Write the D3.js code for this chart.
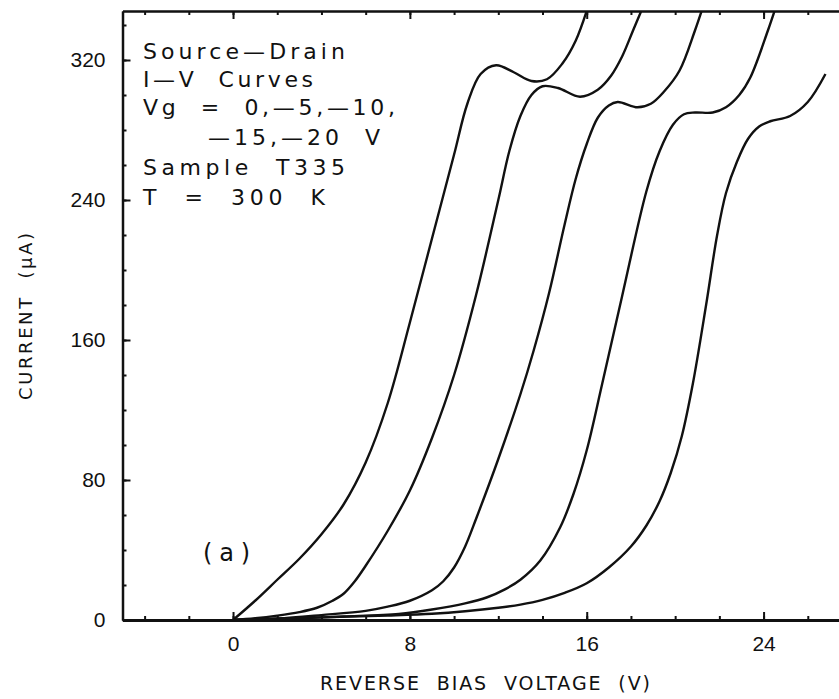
<!DOCTYPE html>
<html>
<head>
<meta charset="utf-8">
<script src="https://cdn.jsdelivr.net/npm/d3@7"></script>
<style>
	body { margin: 0; background: #fff; }
	svg { display: block; font-family: 'DejaVu Sans', 'Liberation Sans', sans-serif; }
	.axis path, .axis line { stroke: #111; }
	.axis text { font-size: 21px; fill: #111; }
</style>
</head>
<body>
<svg id="chart"></svg>
<script>
// Gate voltages of the five curves
const gateVoltages = [0, -5, -10, -15, -20];

// Reverse bias voltage (V) and current (uA)
const curveVg0 = [
	[0, 0], [1, 11], [2, 23], [3, 35], [4, 49], [5, 66], [6, 90], [7, 124], [8, 170],
	[9, 218], [10, 266], [10.6, 295], [11.2, 312], [11.9, 317], [12.7, 313],
	[13.5, 308], [14.2, 309], [14.9, 318], [15.5, 331], [16.1, 352]
];
const curveVg5 = [
	[0, 0], [1, 1], [2, 2.5], [3, 4.5], [3.8, 7], [4.5, 11], [5, 15], [5.5, 22],
	[6, 31], [7, 51], [8, 74], [9, 104], [10, 140], [11, 186], [12, 240], [12.5, 268],
	[13, 288], [13.5, 300], [14, 305], [14.7, 304], [15.7, 299], [16.5, 303],
	[17.1, 311], [17.6, 322], [18.1, 337], [18.6, 352]
];
const curveVg10 = [
	[0, 0], [2, 0.8], [4, 2.8], [6, 5.2], [7, 7.6], [8, 11], [9, 17], [9.5, 22],
	[10, 30], [10.5, 42], [11, 58], [12, 92], [13, 129], [13.6, 154], [14.3, 187],
	[15, 226], [15.5, 252], [16, 272], [16.5, 287], [17, 294], [17.4, 296], [18.3, 293],
	[18.9, 295], [19.5, 302], [20.2, 314], [20.9, 337], [21.3, 352]
];
const curveVg15 = [
	[0, 0], [3, 1], [5, 2], [7.5, 3.5], [9, 6], [10.5, 9.5], [11.5, 13], [12.3, 17.5],
	[13, 23], [13.9, 34], [14.8, 53], [15.4, 72], [16, 97], [16.7, 135], [17.6, 185],
	[18.7, 245], [19.3, 268], [19.9, 283], [20.4, 289], [20.9, 290], [21.7, 290],
	[22.3, 293], [22.9, 300], [23.4, 310], [24.2, 337], [24.6, 352]
];
const curveVg20 = [
	[0, 0], [4, 1.5], [7, 2.6], [9, 3.6], [10.5, 5], [12, 7], [13, 8.8], [14, 11.5],
	[15, 15.5], [16, 21], [17, 30], [18, 42], [18.7, 54], [19.3, 68], [19.8, 84],
	[20.3, 105], [20.8, 135], [21.4, 180], [21.9, 220], [22.3, 244], [22.8, 262],
	[23.3, 275], [23.8, 282], [24.3, 285], [25.2, 288], [26, 296], [26.8, 312]
];
const curves = [curveVg0, curveVg5, curveVg10, curveVg15, curveVg20];

// Tick values
const xMinorTicks = d3.range(-4, 28, 2);
const xMajorTicks = [0, 8, 16, 24];
const yMinorTicks = d3.range(20, 348, 20);
const yMajorTicks = [0, 80, 160, 240, 320];

// Texts
const noteLines = [
	'Source\u2014Drain',
	'I\u2014V  Curves',
	'Vg  =  0,\u20145,\u201410,',
	'\u201415,\u201420  V',
	'Sample  T335',
	'T  =  300  K'
];
const panelLabel = '(a)';
const xTitle = 'REVERSE  BIAS  VOLTAGE  (V)';
const yTitle = 'CURRENT  (\u03bcA)';

class IVChart {
	constructor(_config) {
		this.config = {
			parentElement: _config.parentElement,
			containerWidth: 839,
			containerHeight: 699,
		};
		this.initVis();
	}

	initVis() {
		let vis = this;

		vis.svg = d3
			.select(vis.config.parentElement)
			.attr('width', vis.config.containerWidth)
			.attr('height', vis.config.containerHeight);

		// plot frame: left axis at x=122.5, bottom axis at y=620
		vis.xScale = d3.scaleLinear().domain([-5, 28]).range([122.5, 852]);
		vis.yScale = d3.scaleLinear().domain([0, 348]).range([620, 11]);

		vis.svg
			.append('clipPath')
			.attr('id', 'plot-clip')
			.append('rect')
			.attr('x', vis.xScale(-5))
			.attr('y', vis.yScale(348))
			.attr('width', vis.xScale(28) - vis.xScale(-5))
			.attr('height', vis.yScale(0) - vis.yScale(348));

		vis.renderAxes();
		vis.renderCurves();
		vis.renderText();
	}

	renderAxes() {
		let vis = this;
		const x0 = vis.xScale(-5);
		const yBottom = vis.yScale(0);
		const yTop = vis.yScale(348);

		// bottom axis
		vis.svg
			.append('g')
			.attr('class', 'axis')
			.attr('transform', `translate(0,${yBottom})`)
			.call(d3.axisBottom(vis.xScale).tickValues(xMinorTicks).tickSize(-4).tickSizeOuter(0).tickFormat(''))
			.call((g) => g.selectAll('path, line').attr('stroke-width', 2));
		vis.svg
			.append('g')
			.attr('class', 'axis')
			.attr('transform', `translate(0,${yBottom})`)
			.call(d3.axisBottom(vis.xScale).tickValues(xMajorTicks).tickSize(-8).tickSizeOuter(0).tickPadding(16))
			.call((g) => g.select('.domain').attr('stroke-width', 3))
			.call((g) => g.selectAll('line').attr('stroke-width', 2));

		// top axis
		vis.svg
			.append('g')
			.attr('class', 'axis')
			.attr('transform', `translate(0,${yTop})`)
			.call(d3.axisTop(vis.xScale).tickValues(xMinorTicks).tickSize(-4).tickSizeOuter(0).tickFormat(''))
			.call((g) => g.selectAll('path, line').attr('stroke-width', 2));
		vis.svg
			.append('g')
			.attr('class', 'axis')
			.attr('transform', `translate(0,${yTop})`)
			.call(d3.axisTop(vis.xScale).tickValues(xMajorTicks).tickSize(-8).tickSizeOuter(0).tickFormat(''))
			.call((g) => g.selectAll('path, line').attr('stroke-width', 2));

		// left axis
		vis.svg
			.append('g')
			.attr('class', 'axis')
			.attr('transform', `translate(${x0},0)`)
			.call(d3.axisLeft(vis.yScale).tickValues(yMinorTicks).tickSize(-4).tickSizeOuter(0).tickFormat(''))
			.call((g) => g.selectAll('path, line').attr('stroke-width', 2));
		vis.svg
			.append('g')
			.attr('class', 'axis')
			.attr('transform', `translate(${x0},0)`)
			.call(d3.axisLeft(vis.yScale).tickValues(yMajorTicks).tickSize(-8).tickSizeOuter(0).tickPadding(17))
			.call((g) => g.select('.domain').attr('stroke-width', 2.5))
			.call((g) => g.selectAll('line').attr('stroke-width', 2));
	}

	renderCurves() {
		let vis = this;

		const line = d3
			.line()
			.x((d) => vis.xScale(d[0]))
			.y((d) => vis.yScale(d[1]))
			.curve(d3.curveCatmullRom.alpha(0.5));

		vis.svg
			.append('g')
			.attr('clip-path', 'url(#plot-clip)')
			.selectAll('.curve')
			.data(curves)
			.join('path')
			.attr('class', 'curve')
			.attr('data-vg', (d, i) => gateVoltages[i])
			.attr('fill', 'none')
			.attr('stroke', '#111')
			.attr('stroke-width', 2.4)
			.attr('stroke-linejoin', 'round')
			.attr('d', line);
	}

	renderText() {
		let vis = this;

		// annotation block, left edge and width of each line
		const noteX = [143, 143, 143, 208, 143, 143];
		const noteY = [59, 87, 115, 145, 175, 205];
		const noteW = [202, 170, 252, 172, 202, 182];

		vis.svg
			.append('g')
			.selectAll('text')
			.data(noteLines)
			.join('text')
			.attr('x', (d, i) => noteX[i])
			.attr('y', (d, i) => noteY[i])
			.attr('textLength', (d, i) => noteW[i])
			.attr('lengthAdjust', 'spacing')
			.style('white-space', 'pre')
			.style('font-size', '22px')
			.attr('fill', '#111')
			.text((d) => d);

		vis.svg
			.append('text')
			.attr('x', 203)
			.attr('y', 561)
			.attr('textLength', 47)
			.attr('lengthAdjust', 'spacing')
			.style('font-size', '24px')
			.attr('fill', '#111')
			.text(panelLabel);

		vis.svg
			.append('text')
			.attr('x', 320)
			.attr('y', 690)
			.attr('textLength', 330)
			.attr('lengthAdjust', 'spacing')
			.style('white-space', 'pre')
			.style('font-size', '19px')
			.attr('fill', '#111')
			.text(xTitle);

		vis.svg
			.append('text')
			.attr('transform', 'translate(32,400) rotate(-90)')
			.attr('textLength', 167)
			.attr('lengthAdjust', 'spacing')
			.style('white-space', 'pre')
			.style('font-size', '18px')
			.attr('fill', '#111')
			.text(yTitle);
	}
}

new IVChart({ parentElement: '#chart' });
</script>
</body>
</html>
